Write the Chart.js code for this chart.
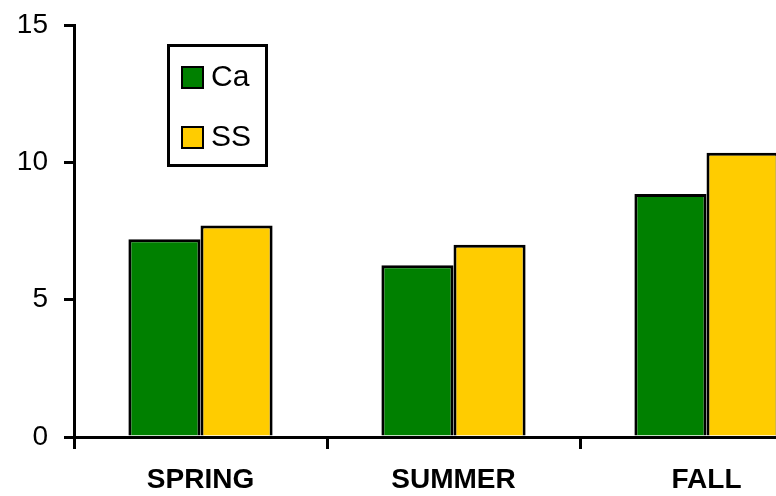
<!DOCTYPE html>
<html>
<head>
<meta charset="utf-8">
<script src="https://cdn.jsdelivr.net/npm/chart.js@4/dist/chart.umd.min.js"></script>
<style>
  html, body { margin: 0; padding: 0; background: #fff; overflow: hidden; }
  #wrap { width: 776px; height: 496px; overflow: hidden; }
</style>
</head>
<body>
<div id="wrap">
  <canvas id="myChart" width="836" height="496"></canvas>
</div>
<script>
// Chart data
var seasons = ["SPRING", "SUMMER", "FALL"];
var caValues = [7.2, 6.25, 8.85];
var ssValues = [7.7, 7.0, 10.35];
var yTicks = [0, 5, 10, 15];

const FONT = "'Liberation Sans', Arial, sans-serif";

// Boxed legend drawn inside the plot, like the old spreadsheet chart
const boxLegend = {
  id: "boxLegend",
  afterDraw(chart) {
    var ctx = chart.ctx;
    ctx.save();
    ctx.lineWidth = 3;
    ctx.strokeStyle = "#000";
    ctx.fillStyle = "#fff";
    ctx.fillRect(168.5, 45.5, 98, 120);
    ctx.strokeRect(168.5, 45.5, 98, 120);
    ctx.font = "30px " + FONT;
    ctx.textBaseline = "middle";
    chart.data.datasets.forEach((ds, i) => {
      var y = 67 + i * 60;
      ctx.fillStyle = ds.backgroundColor;
      ctx.fillRect(182, y, 21, 21);
      ctx.lineWidth = 2;
      ctx.strokeRect(182, y, 21, 21);
      ctx.fillStyle = "#000";
      ctx.fillText(ds.label, 211, y + 11);
    });
    ctx.restore();
  }
};

var ctx = document.getElementById("myChart").getContext("2d");
var myChart = new Chart(ctx, {
  type: "bar",
  data: {
    labels: seasons,
    datasets: [
      {
        label: "Ca",
        data: caValues,
        backgroundColor: "#008000",
        borderColor: "#000",
        borderWidth: 3,
        borderSkipped: "bottom"
      },
      {
        label: "SS",
        data: ssValues,
        backgroundColor: "#FFCC00",
        borderColor: "#000",
        borderWidth: 3,
        borderSkipped: "bottom"
      }
    ]
  },
  options: {
    responsive: false,
    animation: false,
    layout: { padding: { top: 25, right: 3, left: 0, bottom: 0 } },
    datasets: {
      bar: { categoryPercentage: 0.57, barPercentage: 1.0 }
    },
    plugins: {
      legend: { display: false },
      tooltip: { enabled: false }
    },
    scales: {
      x: {
        afterFit(scale) {
          scale.height = 59;
          scale.paddingLeft = 0;
          scale.paddingRight = 0;
        },
        grid: {
          offset: true,
          drawOnChartArea: false,
          drawTicks: true,
          tickLength: 12,
          color: "#000",
          lineWidth: 3
        },
        border: { display: true, color: "#000", width: 3 },
        ticks: {
          color: "#000",
          padding: 14,
          font: { family: FONT, size: 28, weight: "bold" }
        }
      },
      y: {
        min: 0,
        max: 15,
        afterFit(scale) {
          scale.width = 74;
          scale.paddingTop = 0;
          scale.paddingBottom = 0;
        },
        afterBuildTicks(scale) {
          scale.ticks = yTicks.map((v) => ({ value: v }));
        },
        grid: {
          drawOnChartArea: false,
          drawTicks: true,
          tickLength: 10,
          color: "#000",
          lineWidth: 3
        },
        border: { display: true, color: "#000", width: 3 },
        ticks: {
          color: "#000",
          padding: 16,
          font: { family: FONT, size: 28 }
        }
      }
    }
  },
  plugins: [boxLegend]
});
</script>
</body>
</html>
